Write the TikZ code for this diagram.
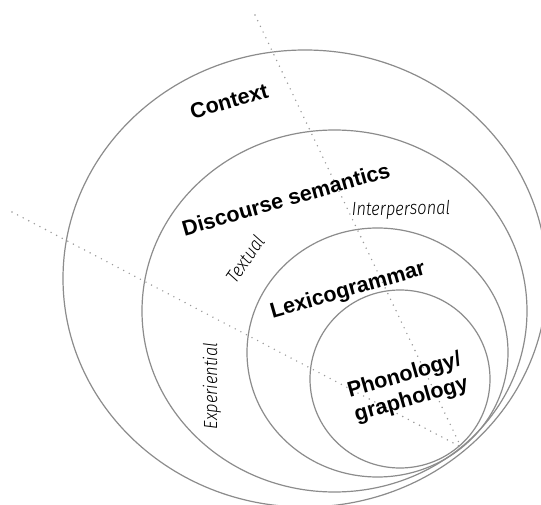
\documentclass[tikz,border=0pt]{standalone}
\usepackage{fontspec}
\usetikzlibrary{shapes.geometric}
\newfontfamily\labfont{Liberation Sans}
\newfontfamily\handfont{Fira Sans Light Italic}[FakeStretch=0.87]
\definecolor{ringgray}{HTML}{8C8C8C}
\definecolor{dotgray}{HTML}{9A9A9A}
\begin{document}
\begin{tikzpicture}[x=1pt,y=-1pt,
  ring/.style={ellipse, draw=ringgray, line width=1.2pt, inner sep=0pt},
  dotline/.style={draw=dotgray, line width=1.6pt, line cap=round, dash pattern=on 0pt off 6.3pt},
  lab/.style={font=\labfont\bfseries\fontsize{21.5}{25}\selectfont, rotate=16, align=center, inner sep=0pt},
  hand/.style={font=\handfont\fontsize{19}{22}\selectfont, inner sep=0pt}]
\useasboundingbox (0,0) rectangle (541,505);
\fill[white] (0,0) rectangle (541,505);
% rings
\node[ring, minimum width=484pt, minimum height=457pt] (context) at (305,278.5) {};
\node[ring, minimum width=385pt, minimum height=362pt] (discourse) at (334.5,311) {};
\node[ring, minimum width=261pt, minimum height=249pt] (lexico) at (377.5,352.5) {};
\node[ring, minimum width=180pt, minimum height=178pt] (phono) at (400,379) {};
% dotted axes
\coordinate (meet) at (461,447);
\coordinate (topend) at (255,15);
\coordinate (leftend) at (12,212);
\draw[dotline] (topend) -- (meet);
\draw[dotline] (leftend) -- (meet);
% labels
\node[lab] (tcontext) at (229,101) {Context};
\node[lab] (tdisc) at (286,199) {Discourse semantics};
\node[lab] (tlex) at (348,291) {Lexicogrammar};
\node[lab] (tphon) at (408,388) {Phonology/\\graphology};
\node[hand, rotate=1] (tinter) at (401,210) {Interpersonal};
\node[hand, rotate=55] (ttext) at (245,259) {Textual};
\node[hand, rotate=90] (texp) at (212,386) {Experiential};
\end{tikzpicture}
\end{document}
